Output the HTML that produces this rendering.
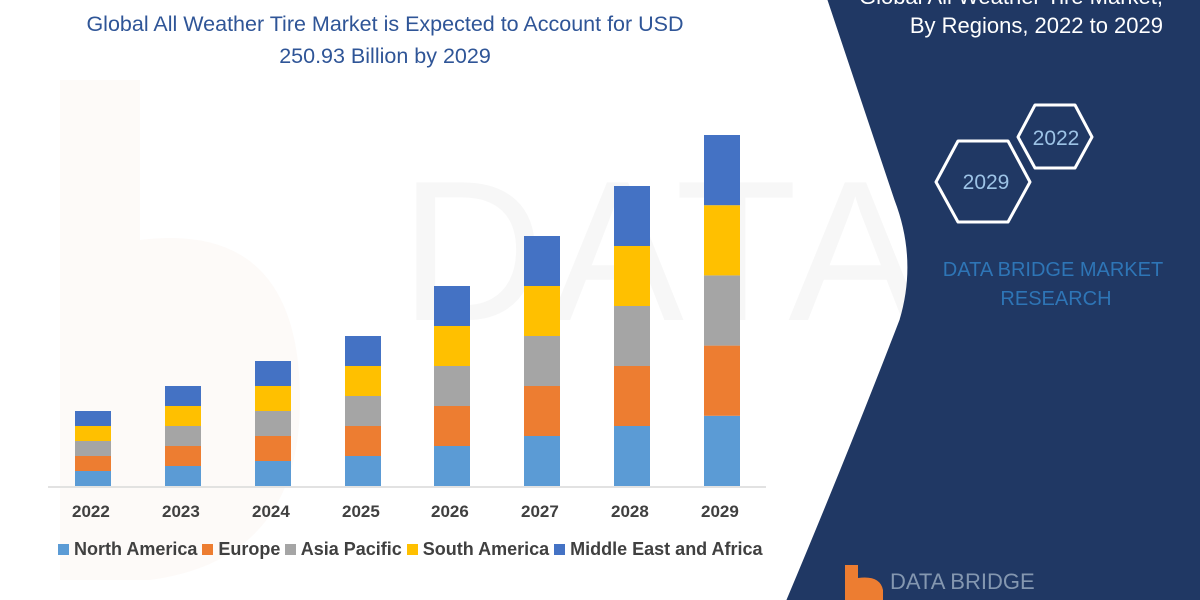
<!DOCTYPE html>
<html><head><meta charset="utf-8"><style>
body{margin:0;width:1200px;height:600px;overflow:hidden;background:#fff;font-family:"Liberation Sans",sans-serif;position:relative}
.t{position:absolute;white-space:nowrap}
</style></head><body>
<svg width="1200" height="600" style="position:absolute;left:0;top:0">
<text x="400" y="320" font-size="200" fill="#f7f7f7" font-family="Liberation Sans" letter-spacing="6">DATABRIDGE</text>
<path d="M60 80 L140 80 L140 240 Q300 220 300 400 Q300 560 150 580 L60 580 Z" fill="#fbf6f3" opacity="0.6"/>
<path d="M828 0 L1200 0 L1200 600 L787 600 Q850 450 900 320 Q918 260 895 200 Z" fill="#203864" stroke="#203864" stroke-linejoin="round"/>
<text x="1163" y="4" font-size="22" fill="#fff" text-anchor="end" font-family="Liberation Sans">Global All Weather Tire Market,</text>
<text x="1163" y="33" font-size="22" fill="#fff" text-anchor="end" font-family="Liberation Sans">By Regions, 2022 to 2029</text>
<polygon points="1018,137 1035,105 1075,105 1092,137 1075,168 1035,168" fill="none" stroke="#fff" stroke-width="3" stroke-linejoin="round"/>
<polygon points="936,182 958,141 1008,141 1030,182 1008,222 958,222" fill="none" stroke="#fff" stroke-width="3" stroke-linejoin="round"/>
<text x="1056" y="145" font-size="21" fill="#9dc3e6" text-anchor="middle" font-family="Liberation Sans">2022</text>
<text x="986" y="189" font-size="21" fill="#9dc3e6" text-anchor="middle" font-family="Liberation Sans">2029</text>
<text x="1053" y="276" font-size="20" fill="#2e75b6" text-anchor="middle" font-family="Liberation Sans">DATA BRIDGE MARKET</text>
<text x="1056" y="305" font-size="20" fill="#2e75b6" text-anchor="middle" font-family="Liberation Sans">RESEARCH</text>
<path d="M845 565 L858 565 L858 578 Q880 575 883 590 L883 600 L845 600 Z" fill="#ed7d31"/>
<text x="890" y="589" font-size="22" fill="#8497b0" font-family="Liberation Sans">DATA BRIDGE</text>
<line x1="48" y1="487" x2="766" y2="487" stroke="#d9d9d9" stroke-width="1.5"/>
<g id="bars"></g>
</svg>
<div class="t" style="left:0;width:770px;text-align:center;top:8px;font-size:21.5px;color:#2f5597;line-height:32px">Global All Weather Tire Market is Expected to Account for USD<br>250.93 Billion by 2029</div>
<div class="t" style="top:502px;left:0;font-size:17px;font-weight:bold;color:#404040">
<span class="t" style="left:72px">2022</span><span class="t" style="left:162px">2023</span><span class="t" style="left:252px">2024</span><span class="t" style="left:342px">2025</span><span class="t" style="left:431px">2026</span><span class="t" style="left:521px">2027</span><span class="t" style="left:611px">2028</span><span class="t" style="left:701px">2029</span></div>
<div class="t" style="top:539px;left:58px;font-size:18px;font-weight:bold;color:#404040">
<span style="display:inline-block;width:11px;height:11px;background:#5b9bd5"></span> North America <span style="display:inline-block;width:11px;height:11px;background:#ed7d31"></span> Europe <span style="display:inline-block;width:11px;height:11px;background:#a5a5a5"></span> Asia Pacific <span style="display:inline-block;width:11px;height:11px;background:#ffc000"></span> South America <span style="display:inline-block;width:11px;height:11px;background:#4472c4"></span> Middle East and Africa</div>
<script>
var g=document.getElementById('bars'),cx=[93,183,273,363,452,542,632,722],h=[15,20,25,30,40,50,60,70.2],c=['#5b9bd5','#ed7d31','#a5a5a5','#ffc000','#4472c4'],s='';
cx.forEach(function(x,i){for(var k=0;k<5;k++){s+='<rect x="'+(x-18)+'" y="'+(486-h[i]*(k+1))+'" width="36" height="'+h[i]+'" fill="'+c[k]+'"/>';}});
g.innerHTML=s;
</script>
</body></html>
